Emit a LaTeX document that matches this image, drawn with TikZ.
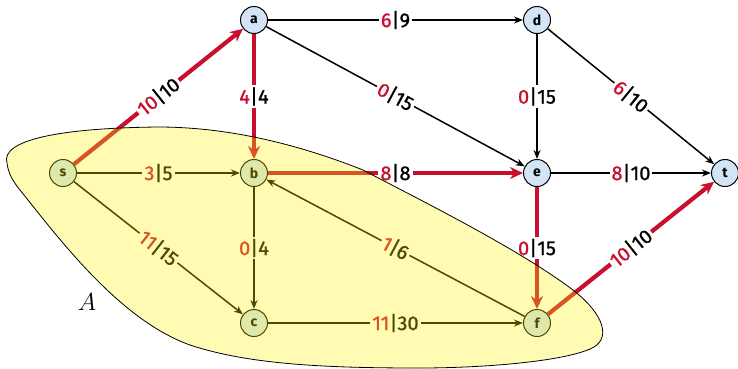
\documentclass[tikz,border=0pt]{standalone}
\usepackage{fontspec}
\setsansfont{Fira Sans}
\newfontfamily\lblfont{Fira Sans}[FakeBold=1]
\usetikzlibrary{arrows.meta}
\definecolor{myred}{RGB}{200,16,46}
\definecolor{nodeblue}{RGB}{210,228,245}
\tikzset{
  vtx/.style={circle, draw=black, line width=1pt, fill=nodeblue, minimum size=27pt, inner sep=0pt, font=\sffamily\bfseries\fontsize{14}{14}\selectfont},
  blk/.style={draw=black, line width=1.5pt, -{Stealth[length=9pt,width=7pt]}},
  rd/.style={draw=myred, line width=4.2pt, -{Stealth[length=13pt,width=12pt]}},
  lbl/.style={fill=white, inner sep=2pt, font=\lblfont\fontsize{20}{20}\selectfont, midway},
}
\newcommand{\fl}[2]{\textcolor{myred}{#1}|#2}
\begin{document}
\begin{tikzpicture}[x=1pt,y=-1pt]
\useasboundingbox (0,0) rectangle (738,368);
\node[vtx] (a) at (254,20) {a};
\node[vtx] (d) at (537,20) {d};
\node[vtx] (s) at (63,173) {s};
\node[vtx] (b) at (254,173) {b};
\node[vtx] (e) at (537,173) {e};
\node[vtx] (t) at (725,173) {t};
\node[vtx] (c) at (254,323) {c};
\node[vtx] (f) at (537,323) {f};
\draw[rd] (s) -- (a) node[lbl, sloped] {\fl{10}{10}};
\draw[blk] (a) -- (d) node[lbl] {\fl{6}{9}};
\draw[rd] (a) -- (b) node[lbl] {\fl{4}{4}};
\draw[blk] (a) -- (e) node[lbl, sloped] {\fl{0}{15}};
\draw[blk] (d) -- (e) node[lbl] {\fl{0}{15}};
\draw[blk] (d) -- (t) node[lbl, sloped] {\fl{6}{10}};
\draw[blk] (s) -- (b) node[lbl] {\fl{3}{5}};
\draw[rd] (b) -- (e) node[lbl] {\fl{8}{8}};
\draw[blk] (e) -- (t) node[lbl] {\fl{8}{10}};
\draw[blk] (s) -- (c) node[lbl, sloped] {\fl{11}{15}};
\draw[blk] (b) -- (c) node[lbl] {\fl{0}{4}};
\draw[blk] (f) -- (b) node[lbl, sloped] {\fl{1}{6}};
\draw[blk] (c) -- (f) node[lbl] {\fl{11}{30}};
\draw[rd] (e) -- (f) node[lbl] {\fl{0}{15}};
\draw[rd] (f) -- (t) node[lbl, sloped] {\fl{10}{10}};
\draw[fill=yellow, fill opacity=0.3, draw=black, line width=0.8pt]
  (7,163) .. controls (0,140) and (60,128) .. (158,127)
  .. controls (230,127) and (300,145) .. (363,170)
  .. controls (430,205) and (520,250) .. (573,290)
  .. controls (605,315) and (612,340) .. (590,349)
  .. controls (560,362) and (480,368) .. (420,368)
  .. controls (330,368) and (250,365) .. (190,345)
  .. controls (120,320) and (60,240) .. (20,190)
  .. controls (10,178) and (8,170) .. (7,163) -- cycle;
\node[font=\fontsize{26}{26}\selectfont] (A) at (87,302) {$A$};
\end{tikzpicture}
\end{document}
